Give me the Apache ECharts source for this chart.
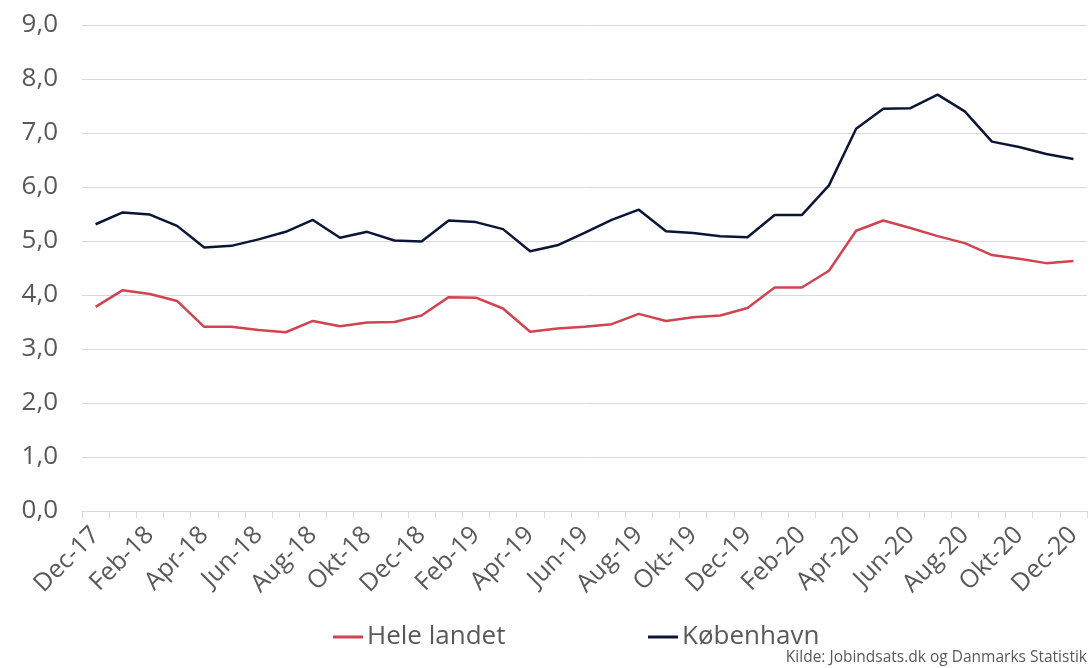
<!DOCTYPE html>
<html>
<head>
<meta charset="utf-8">
<script src="https://cdn.jsdelivr.net/npm/echarts@6/dist/echarts.min.js"></script>
<style>
  html, body { margin: 0; padding: 0; background: #fff; }
  #chart { width: 1089px; height: 668px; }
</style>
</head>
<body>
<div id="chart"></div>
<script>
// --- data ---
const months = [
  'Dec-17', 'Jan-18', 'Feb-18', 'Mar-18', 'Apr-18', 'Maj-18', 'Jun-18', 'Jul-18', 'Aug-18', 'Sep-18', 'Okt-18', 'Nov-18',
  'Dec-18', 'Jan-19', 'Feb-19', 'Mar-19', 'Apr-19', 'Maj-19', 'Jun-19', 'Jul-19', 'Aug-19', 'Sep-19', 'Okt-19', 'Nov-19',
  'Dec-19', 'Jan-20', 'Feb-20', 'Mar-20', 'Apr-20', 'Maj-20', 'Jun-20', 'Jul-20', 'Aug-20', 'Sep-20', 'Okt-20', 'Nov-20',
  'Dec-20'
];
const heleLandet = [
  3.78, 4.09, 4.02, 3.89, 3.41, 3.41, 3.35, 3.31, 3.52, 3.42, 3.49, 3.50,
  3.62, 3.96, 3.95, 3.75, 3.32, 3.38, 3.41, 3.46, 3.65, 3.52, 3.59, 3.62,
  3.76, 4.14, 4.14, 4.45, 5.19, 5.38, 5.24, 5.09, 4.96, 4.74, 4.67, 4.59,
  4.63
];
const koebenhavn = [
  5.31, 5.53, 5.49, 5.28, 4.88, 4.91, 5.03, 5.17, 5.39, 5.06, 5.17, 5.01,
  4.99, 5.38, 5.35, 5.22, 4.81, 4.92, 5.15, 5.39, 5.58, 5.18, 5.15, 5.09,
  5.07, 5.48, 5.48, 6.03, 7.08, 7.45, 7.46, 7.71, 7.40, 6.84, 6.74, 6.61,
  6.52
];
const seriesNames = ['Hele landet', 'København'];
const sourceText = 'Kilde: Jobindsats.dk og Danmarks Statistik';

const textColor = '#595959';
const fontFamily = '"Open Sans", sans-serif';

const chart = echarts.init(document.getElementById('chart'));

// legend style shared by both entries (placed separately like in the original)
const legendBase = {
  top: 624,
  padding: 0,
  itemWidth: 30, itemHeight: 3, itemGap: 0,
  icon: 'rect',
  textStyle: { color: textColor, fontSize: 26, fontFamily: fontFamily, padding: [0, 0, 0, -1] }
};

const option = {
  animation: false,
  grid: { left: 82, right: 2, top: 25, bottom: 157, containLabel: false },
  legend: [
    Object.assign({ data: [seriesNames[0]], left: 333 }, legendBase),
    Object.assign({ data: [seriesNames[1]], left: 648 }, legendBase)
  ],
  graphic: [
    {
      type: 'text',
      right: 2, top: 650,
      style: { text: sourceText, fill: textColor, fontSize: 15.5, fontFamily: fontFamily }
    }
  ],
  xAxis: {
    type: 'category',
    data: months,
    boundaryGap: true,
    axisLine: { lineStyle: { color: '#d9d9d9', width: 1 } },
    axisTick: { show: true, interval: 0, length: 7, lineStyle: { color: '#d9d9d9' } },
    axisLabel: {
      interval: 1,
      rotate: 45,
      color: textColor,
      fontSize: 25,
      fontFamily: fontFamily,
      margin: 20
    }
  },
  yAxis: {
    type: 'value',
    min: 0, max: 9, interval: 1,
    axisLine: { show: false },
    axisTick: { show: false },
    splitLine: { lineStyle: { color: '#d9d9d9', width: 1 } },
    axisLabel: {
      color: textColor,
      fontSize: 26,
      fontFamily: fontFamily,
      margin: 24,
      formatter: v => v.toFixed(1).replace('.', ',')
    }
  },
  series: [
    {
      name: seriesNames[0],
      type: 'line',
      data: heleLandet,
      symbol: 'none',
      lineStyle: { color: '#cf4450', width: 2.5 },
      itemStyle: { color: '#cf4450' }
    },
    {
      name: seriesNames[1],
      type: 'line',
      data: koebenhavn,
      symbol: 'none',
      lineStyle: { color: '#0b1636', width: 2.5 },
      itemStyle: { color: '#0b1636' }
    }
  ]
};

chart.setOption(option);
</script>
</body>
</html>
